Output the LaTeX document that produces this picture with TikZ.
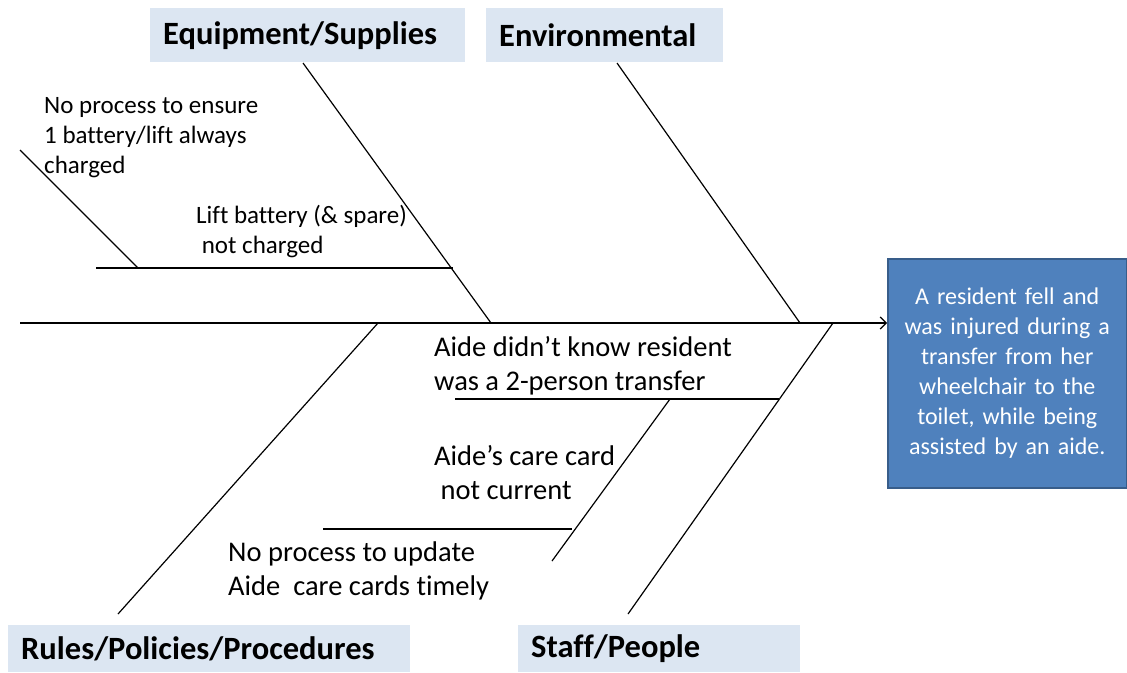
\documentclass[tikz,border=0pt]{standalone}
\usepackage{fontspec}
\setmainfont{Carlito}[Ligatures=NoCommon]
\usetikzlibrary{arrows.meta}
\definecolor{catfill}{HTML}{DCE6F2}
\definecolor{effectfill}{HTML}{4F81BD}
\definecolor{effectline}{HTML}{385D8A}
\tikzset{bone/.style={black, line width=1.2pt},
  cat/.style={fill=catfill, anchor=north west, inner xsep=13pt, inner ysep=0pt, align=left,
    font=\fontsize{32.5}{34}\selectfont\bfseries},
  cause/.style={anchor=north west, inner sep=0pt, align=left, font=\fontsize{25}{30}\selectfont},
  bigcause/.style={anchor=north west, inner sep=0pt, align=left, font=\fontsize{28.5}{34}\selectfont}}

\begin{document}
\begin{tikzpicture}[x=1pt,y=-1pt]
  \useasboundingbox (0,0) rectangle (1127,672);
  % effect
  \node (effect) [fill=effectfill, draw=effectline, line width=1.5pt, anchor=north west,
    minimum width=239pt, minimum height=229pt, text width=225pt, align=center, text=white,
    font=\fontsize{24}{30}\selectfont] at (887,258)
    {A resident fell and\\was injured during a\\transfer from her\\wheelchair to the\\toilet, while being\\assisted by an aide.};
  % categories
  \node (equip) [cat, minimum height=54pt, text width=289pt] at (150,8) {Equipment/Supplies};
  \node (env)   [cat, minimum height=54pt, text width=211pt] at (486,8) {Environmental};
  \node (rules) [cat, minimum height=47pt, text width=376pt] at (8,625) {Rules/Policies/Procedures};
  \node (staff) [cat, minimum height=47pt, text width=256pt] at (518,625) {Staff/People};
  % spine
  \coordinate (tail) at (20,323);
  \draw[bone, -{Straight Barb[length=6pt,width=12pt]}] (tail) -- (effect.west |- tail);
  % main bones
  \coordinate (eq a) at (303,63);   \coordinate (eq b) at (491,323);
  \coordinate (en a) at (617,63);   \coordinate (en b) at (800,323);
  \coordinate (ru a) at (378,323);  \coordinate (ru b) at (118,614);
  \coordinate (st a) at (833,323);  \coordinate (st b) at (628,614);
  \draw[bone] (eq a) -- (eq b);
  \draw[bone] (en a) -- (en b);
  \draw[bone] (ru a) -- (ru b);
  \draw[bone] (st a) -- (st b);
  % equipment causes
  \coordinate (lift a) at (96,268);  \coordinate (lift b) at (453,268);
  \coordinate (proc a) at (20,150);  \coordinate (proc b) at (138,268);
  \draw[bone] (lift a) -- (lift b);
  \draw[bone] (proc a) -- (proc b);
  \node (lift) [cause] at (196,205) {Lift battery (\& spare)\\\ not charged};
  \node (proc) [cause] at (44,97) {No process to ensure\\1 battery/lift always\\charged};
  % staff causes
  \coordinate (know a) at (455,399); \coordinate (know b) at (779,399);
  \coordinate (card a) at (670,399); \coordinate (card b) at (552,561);
  \coordinate (upd a) at (323,529);  \coordinate (upd b) at (572,529);
  \draw[bone] (know a) -- (know b);
  \draw[bone] (card a) -- (card b);
  \draw[bone] (upd a) -- (upd b);
  \node (know) [bigcause] at (434,336) {Aide didn’t know resident\\was a 2-person transfer};
  \node (card) [bigcause] at (434,445) {Aide’s care card\\\ not current};
  \node (upd)  [bigcause] at (228,542) {No process to update\\Aide\ \ care cards timely};
\end{tikzpicture}
\end{document}
